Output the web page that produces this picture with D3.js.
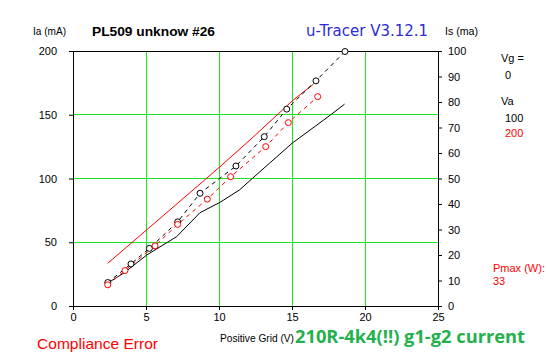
<!DOCTYPE html>
<html><head><meta charset="utf-8">
<script src="https://cdn.jsdelivr.net/npm/d3@7"></script>
<style>body{margin:0;background:#fff}svg{display:block}text{font-family:"Liberation Sans",Arial,sans-serif}</style>
</head><body><svg id="c" width="547" height="357"></svg>
<script>
// Grid voltage (V) points and currents
const xTicks = [0,5,10,15,20,25];
const yTicksLeft = [0,50,100,150,200];
const yTicksRight = [0,10,20,30,40,50,60,70,80,90,100];
// Ia (left axis, mA) solid lines
const iaVa100 = [[2.38,18],[3.5,26],[5.05,40],[7.1,54.4],[8.7,73.2],[10.07,81.3],[11.4,91],[12.8,105.3],[15.0,127.6],[17.6,149.5],[18.6,158.3]];
const iaVa200 = [[2.38,33.5],[8.7,95.7],[10.07,109.3],[12.12,130.2],[15.09,161.6],[16.46,173.9]];
// Is (right axis, mA) dashed lines with markers
const isVa100 = [[2.38,9.2],[3.97,16.5],[5.23,22.6],[7.17,33.0],[8.7,44.2],[11.16,54.9],[13.1,66.4],[14.64,77.2],[16.64,88.3],[18.63,99.8]];
const isVa200 = [[2.38,8.3],[3.56,13.9],[5.62,23.6],[7.17,32.0],[9.2,41.9],[10.8,50.7],[13.2,62.5],[14.75,71.9],[16.76,82.1]];

const svg = d3.select("#c");
const L=73, R=438, T=51, B=306;
const x = d3.scaleLinear().domain([0,25]).range([L,R]);
const yL = d3.scaleLinear().domain([0,200]).range([B,T]);
const yR = d3.scaleLinear().domain([0,100]).range([B,T]);
const grid = "#1ee61e";

// grid
svg.append("g").selectAll("line").data(xTicks.filter(d=>d>0&&d<25)).join("line")
  .attr("x1",d=>x(d)).attr("x2",d=>x(d)).attr("y1",T).attr("y2",B)
  .attr("stroke",grid).attr("shape-rendering","crispEdges");
svg.append("g").selectAll("line").data(yTicksLeft.filter(d=>d>0&&d<200)).join("line")
  .attr("y1",d=>yL(d)).attr("y2",d=>yL(d)).attr("x1",L).attr("x2",R)
  .attr("stroke",grid).attr("shape-rendering","crispEdges");

// axes
const ax = (g)=>{g.select(".domain").remove();g.selectAll("text").attr("fill","#000").style("font-size","11px").style("font-family","Liberation Sans, Arial, sans-serif");g.selectAll("line").attr("stroke","#000");};
svg.append("g").attr("transform",`translate(0,${B})`)
  .call(d3.axisBottom(x).tickValues(xTicks).tickSize(4).tickPadding(3)).call(ax);
svg.append("g").attr("transform",`translate(${L},0)`)
  .call(d3.axisLeft(yL).tickValues(yTicksLeft).tickSize(4).tickPadding(12)).call(ax);
svg.append("g").attr("transform",`translate(${R},0)`)
  .call(d3.axisRight(yR).tickValues(yTicksRight).tickSize(4).tickPadding(6)).call(ax);
svg.append("rect").attr("x",L+0.5).attr("y",T+0.5).attr("width",R-L).attr("height",B-T)
  .attr("fill","none").attr("stroke","#000").attr("shape-rendering","crispEdges");

// lines
const lineL = d3.line().x(d=>x(d[0])).y(d=>yL(d[1]));
const lineR = d3.line().x(d=>x(d[0])).y(d=>yR(d[1]));
svg.append("path").attr("d",lineL(iaVa100)).attr("fill","none").attr("stroke","#000").attr("stroke-width",1);
svg.append("path").attr("d",lineL(iaVa200)).attr("fill","none").attr("stroke","#ff0000").attr("stroke-width",1);
svg.append("path").attr("d",lineR(isVa100)).attr("fill","none").attr("stroke","#000").attr("stroke-dasharray","4,4");
svg.append("path").attr("d",lineR(isVa200)).attr("fill","none").attr("stroke","#ff0000").attr("stroke-dasharray","4,4");
svg.append("g").selectAll("circle").data(isVa100).join("circle")
  .attr("cx",d=>x(d[0])).attr("cy",d=>yR(d[1])).attr("r",3).attr("fill","#fff").attr("stroke","#000");
svg.append("g").selectAll("circle").data(isVa200).join("circle")
  .attr("cx",d=>x(d[0])).attr("cy",d=>yR(d[1])).attr("r",3).attr("fill","#fff").attr("stroke","#ff0000");

// texts
const t=(s,px,py,o={})=>{const e=svg.append("text").attr("x",px).attr("y",py).text(s)
  .style("font-size",(o.size||11)+"px").attr("fill",o.color||"#000");
  if(o.weight)e.style("font-weight",o.weight); if(o.family)e.style("font-family",o.family);
  if(o.len)e.attr("textLength",o.len).attr("lengthAdjust","spacingAndGlyphs"); return e;};
t("Ia (mA)",33,35,{len:33});
t("PL509 unknow #26",92,36,{size:13,weight:"bold",len:123});
t("u-Tracer V3.12.1",306,36,{size:15,color:"#2b2bdb",family:"DejaVu Sans",len:122});
t("Is (ma)",445,35,{len:33});
t("Vg =",501,62);
t("0",505,79);
t("Va",501,105);
t("100",505,122);
t("200",505,137,{color:"#ff0000"});
t("Pmax (W):",493,272,{color:"#ff0000"});
t("33",493,285,{color:"#ff0000"});
t("Compliance Error",37,349,{size:15,color:"#ff0000",len:121});
t("Positive Grid (V)",220,342,{len:74});
t("210R-4k4(!!) g1-g2 current",295,343,{size:17,weight:"bold",color:"#22b14c",family:"Open Sans",len:230});
</script></body></html>
